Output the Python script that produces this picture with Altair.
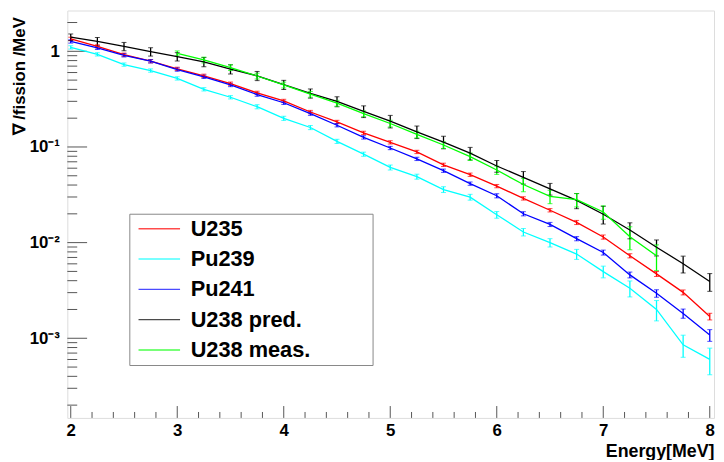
import altair as alt
import pandas as pd

# ---------------- data ----------------
energy = [2.0, 2.25, 2.5, 2.75, 3.0, 3.25, 3.5, 3.75, 4.0, 4.25, 4.5, 4.75, 5.0,
          5.25, 5.5, 5.75, 6.0, 6.25, 6.5, 6.75, 7.0, 7.25, 7.5, 7.75, 8.0]
energy_meas = [3.0, 3.25, 3.5, 3.75, 4.0, 4.25, 4.5, 4.75, 5.0, 5.25, 5.5, 5.75,
               6.0, 6.25, 6.5, 6.75, 7.0, 7.25, 7.5]

u235 = [1.35, 1.126, 0.922, 0.788, 0.656, 0.555, 0.459, 0.368, 0.303, 0.232, 0.1827,
        0.1405, 0.1118, 0.0888, 0.0651, 0.0513, 0.0390, 0.0290, 0.0218, 0.01626,
        0.01145, 0.00729, 0.00471, 0.00302, 0.00169]
pu239 = [1.10, 0.931, 0.727, 0.630, 0.521, 0.401, 0.331, 0.2636, 0.1995, 0.1598,
         0.1146, 0.0841, 0.0611, 0.0490, 0.0359, 0.0299, 0.01956, 0.0129, 0.0100,
         0.00759, 0.00498, 0.00334, 0.00200, 0.000855, 0.000602]
pu241 = [1.269, 1.089, 0.909, 0.788, 0.645, 0.542, 0.445, 0.353, 0.290, 0.223,
         0.1688, 0.1260, 0.0976, 0.0751, 0.0565, 0.0414, 0.0309, 0.02004, 0.0155,
         0.0110, 0.00788, 0.0046, 0.00295, 0.00182, 0.00108]
u238_pred = [1.406, 1.269, 1.126, 0.991, 0.880, 0.775, 0.651, 0.555, 0.448, 0.364,
             0.299, 0.236, 0.186, 0.144, 0.1126, 0.0861, 0.0633, 0.0481, 0.0365,
             0.0276, 0.0198, 0.01353, 0.00896, 0.00602, 0.00392]
u238_meas = [0.953, 0.813, 0.677, 0.552, 0.445, 0.356, 0.287, 0.223, 0.176, 0.1353,
             0.1049, 0.0794, 0.0574, 0.0405, 0.0304, 0.0281, 0.0209, 0.01153, 0.00729]

# relative (fractional) error half-widths
u235_err = [0.04, 0.04, 0.04, 0.04, 0.04, 0.04, 0.04, 0.04, 0.04, 0.04, 0.04, 0.04, 0.04,
            0.04, 0.04, 0.04, 0.04, 0.04, 0.04, 0.05, 0.05, 0.05, 0.06, 0.06, 0.08]
pu239_err = [0.04, 0.04, 0.04, 0.04, 0.04, 0.04, 0.04, 0.05, 0.05, 0.05, 0.05, 0.05, 0.06,
             0.06, 0.07, 0.07, 0.08, 0.09, 0.10, 0.12, 0.14, 0.19, 0.24, 0.26, 0.31]
pu241_err = [0.04, 0.04, 0.04, 0.04, 0.04, 0.04, 0.04, 0.04, 0.04, 0.04, 0.04, 0.04, 0.04,
             0.04, 0.04, 0.04, 0.05, 0.05, 0.05, 0.05, 0.06, 0.07, 0.09, 0.11, 0.14]
u238_pred_err = [0.08, 0.10, 0.10, 0.10, 0.10, 0.11, 0.11, 0.11, 0.11, 0.11, 0.12, 0.14,
                 0.15, 0.15, 0.15, 0.15, 0.14, 0.15, 0.14, 0.18, 0.21, 0.19, 0.19, 0.20, 0.21]
u238_meas_err = [0.06, 0.07, 0.07, 0.07, 0.07, 0.07, 0.07, 0.07, 0.08, 0.08, 0.08, 0.09,
                 0.10, 0.16, 0.16, 0.16, 0.16, 0.27, 0.30]

series_names = ["U235", "Pu239", "Pu241", "U238 pred.", "U238 meas."]
series_colors = ["#ff0000", "#00ffff", "#0000ff", "#000000", "#00ff00"]

# axis tick values
x_major = [2, 3, 4, 5, 6, 7, 8]
x_minor = [2.2, 2.4, 2.6, 2.8, 3.2, 3.4, 3.6, 3.8, 4.2, 4.4, 4.6, 4.8, 5.2, 5.4, 5.6,
           5.8, 6.2, 6.4, 6.6, 6.8, 7.2, 7.4, 7.6, 7.8]
y_major = [0.001, 0.01, 0.1, 1]
y_minor = [2e-4, 3e-4, 4e-4, 5e-4, 6e-4, 7e-4, 8e-4, 9e-4,
           2e-3, 3e-3, 4e-3, 5e-3, 6e-3, 7e-3, 8e-3, 9e-3,
           2e-2, 3e-2, 4e-2, 5e-2, 6e-2, 7e-2, 8e-2, 9e-2,
           0.2, 0.3, 0.4, 0.5, 0.6, 0.7, 0.8, 0.9, 2.0]

# ---------------- tables ----------------
rows = []
for name, xs, vs, es in [
    ("U235", energy, u235, u235_err),
    ("Pu239", energy, pu239, pu239_err),
    ("Pu241", energy, pu241, pu241_err),
    ("U238 pred.", energy, u238_pred, u238_pred_err),
    ("U238 meas.", energy_meas, u238_meas, u238_meas_err),
]:
    for x, v, e in zip(xs, vs, es):
        rows.append({"series": name, "E": x, "v": v, "lo": v * (1 - e), "hi": v * (1 + e)})
df = pd.DataFrame(rows)

FONT = "Liberation Sans"
W, H = 654, 412

xscale = alt.Scale(domain=[1.968, 8.04], nice=False, zero=False)
yscale = alt.Scale(type="log", domain=[1.47e-4, 2.67], nice=False)
cscale = alt.Scale(domain=series_names, range=series_colors)

label_expr = ("datum.value == 1 ? '1' : datum.value == 0.1 ? '10\u207b\u00b9' : "
              "datum.value == 0.01 ? '10\u207b\u00b2' : '10\u207b\u00b3'")

xaxis = alt.Axis(values=x_major, format="d", ticks=False, domain=False, grid=False,
                 title="Energy[MeV]", titleFont=FONT, titleFontSize=18,
                 titleFontWeight="bold", titleX=W, titleY=39, titleAlign="right",
                 titleBaseline="alphabetic",
                 labelFont=FONT, labelFontSize=17, labelFontWeight="bold",
                 labelPadding=5, labelColor="black", titleColor="black")
yaxis = alt.Axis(values=y_major, labelExpr=label_expr, ticks=False, domain=False,
                 grid=False, title="\u2207 /fission /MeV", titleFont=FONT,
                 titleFontSize=17, titleFontWeight="bold", titleX=-43, titleY=66,
                 titleAlign="center", titleBaseline="alphabetic", titleAngle=-90,
                 labelFont=FONT, labelFontSize=17, labelFontWeight="bold",
                 labelPadding=8, labelColor="black", titleColor="black")

# a blank (white) title placed to the right widens the legend box like the reference
legend = alt.Legend(orient="none", legendX=62.7, legendY=205.5,
                    title=".", titleOrient="right", titleFontSize=10, titleColor="white",
                    titlePadding=55,
                    fillColor="white", strokeColor="#888888", padding=4.3,
                    symbolType="M-0.6,0L3.6,0", symbolSize=400, symbolStrokeWidth=1.5,
                    labelFont=FONT, labelFontSize=22, labelFontWeight="bold",
                    labelColor="black", labelOffset=35.7, rowPadding=8.6, labelLimit=400)

base = alt.Chart(df)

lines = base.mark_line(strokeWidth=1.3).encode(
    x=alt.X("E:Q", scale=xscale, axis=xaxis),
    y=alt.Y("v:Q", scale=yscale, axis=yaxis),
    color=alt.Color("series:N", scale=cscale, legend=legend),
    detail="series:N",
)

errs = base.mark_rule(strokeWidth=1.3).encode(
    x=alt.X("E:Q", scale=xscale, axis=xaxis),
    y=alt.Y("lo:Q", scale=yscale, axis=yaxis),
    y2="hi:Q",
    color=alt.Color("series:N", scale=cscale, legend=legend),
)
cap_lo = base.mark_tick(orient="horizontal", size=5, thickness=1).encode(
    x=alt.X("E:Q", scale=xscale, axis=xaxis),
    y=alt.Y("lo:Q", scale=yscale, axis=yaxis),
    color=alt.Color("series:N", scale=cscale, legend=legend),
)
cap_hi = base.mark_tick(orient="horizontal", size=5, thickness=1).encode(
    x=alt.X("E:Q", scale=xscale, axis=xaxis),
    y=alt.Y("hi:Q", scale=yscale, axis=yaxis),
    color=alt.Color("series:N", scale=cscale, legend=legend),
)

TICK = "#555555"
xt_major = alt.Chart(pd.DataFrame({"t": x_major})).mark_rule(color=TICK).encode(
    x=alt.X("t:Q", scale=xscale, axis=xaxis), y=alt.value(H), y2=alt.value(H - 12))
xt_minor = alt.Chart(pd.DataFrame({"t": x_minor})).mark_rule(color=TICK).encode(
    x=alt.X("t:Q", scale=xscale, axis=xaxis), y=alt.value(H), y2=alt.value(H - 6))
yt_major = alt.Chart(pd.DataFrame({"t": y_major})).mark_rule(color=TICK).encode(
    y=alt.Y("t:Q", scale=yscale, axis=yaxis), x=alt.value(0), x2=alt.value(20))
yt_minor = alt.Chart(pd.DataFrame({"t": y_minor})).mark_rule(color=TICK).encode(
    y=alt.Y("t:Q", scale=yscale, axis=yaxis), x=alt.value(0), x2=alt.value(10))

chart = alt.layer(
    xt_major, xt_minor, yt_major, yt_minor, errs, cap_lo, cap_hi, lines
).properties(
    width=W, height=H,
    autosize=alt.AutoSizeParams(type="none"),
    padding={"left": 60, "top": 0, "right": 2, "bottom": 40},
).configure_view(
    stroke="#808080", strokeWidth=1.4
).configure(background="white")

chart.save("out.html", embed_options={"renderer": "svg", "actions": False})
